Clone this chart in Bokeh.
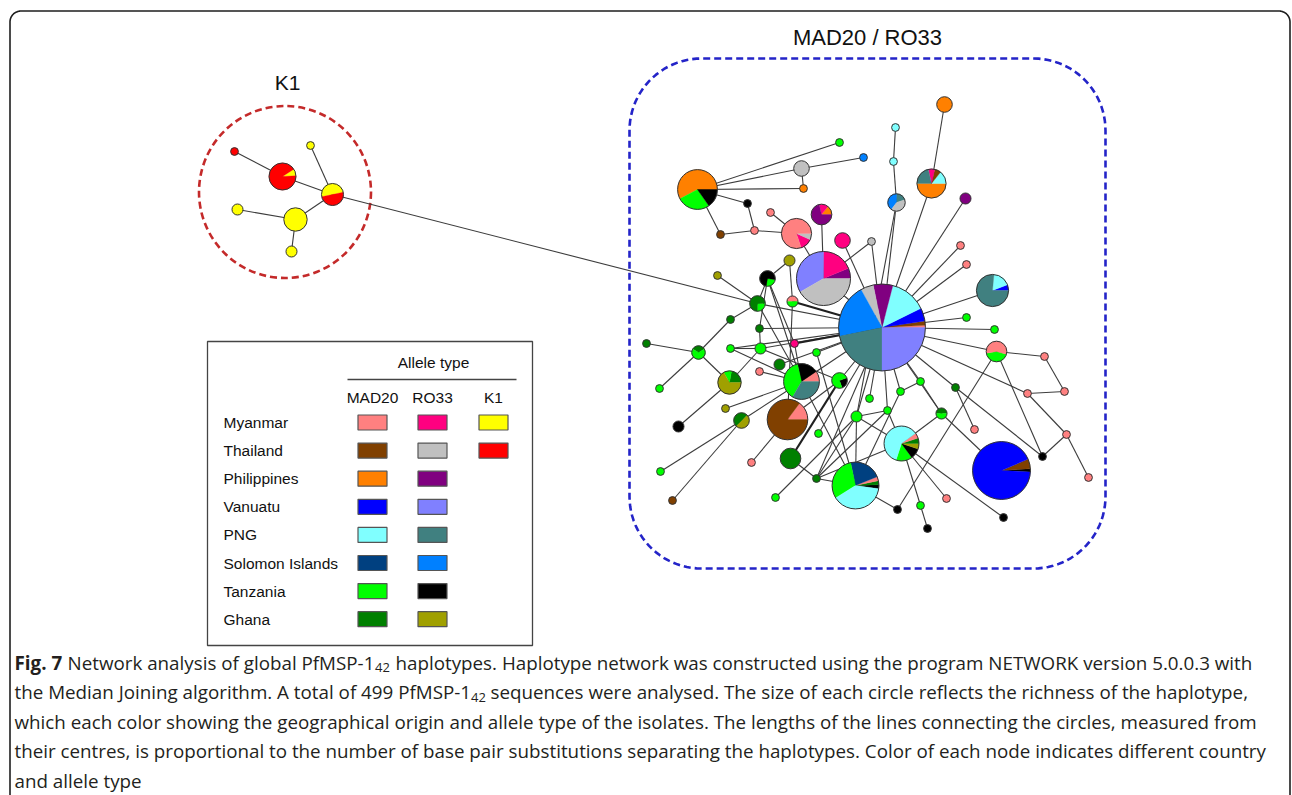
import numpy as np
from bokeh.plotting import figure
from bokeh.models import Range1d
from bokeh.embed import file_html
from bokeh.resources import INLINE
from bokeh.core.properties import value

# ------------------------------------------------------------------ data
countries = ["Myanmar", "Thailand", "Philippines", "Vanuatu", "PNG",
             "Solomon Islands", "Tanzania", "Ghana"]
country_codes = ["My", "Th", "Ph", "Va", "Pn", "So", "Ta", "Gh"]
allele_types = ["MAD20", "RO33", "K1"]
allele_codes = ["M", "R", "K"]
k1_countries = ["Myanmar", "Thailand"]

cluster_names = ["K1", "MAD20 / RO33"]
legend_title = "Allele type"

# haplotype network nodes (layout position in the drawing, haplotype composition)
node_id = ["k1", "k2", "k3", "k4", "k5", "k6", "k7",
           "m1", "m2", "m3", "m4", "m5", "m6", "m7", "m8", "m9", "m10",
           "m11", "m12", "m13", "m14", "m15", "m16", "m17", "m18", "m19", "m20",
           "m21", "hub", "m23", "m24", "m25", "m26", "m27", "m28", "m29", "m30",
           "m31", "m32", "m34", "m35", "m36", "m37", "m38", "m39", "m40", "m41",
           "m42", "m43", "m44", "m45", "m46", "m47", "m48", "m49", "m50", "m51",
           "m52", "m53", "m54", "m55", "m56", "m57", "m60", "m61", "m62", "m63",
           "m64", "m65", "m66", "m67", "m68", "m69", "m70", "m71", "m72", "m73",
           "m74", "m75", "m76", "m78", "m79", "m80", "m81", "m82", "m83"]
node_x = [234, 282, 310, 332, 295, 237, 291,
          697, 839, 801, 863, 803, 747, 770, 720, 754, 796,
          821, 842, 871, 789, 717, 767, 823, 792, 757, 730,
          759, 881.5, 966, 965, 931, 944, 895, 893, 896, 960,
          966, 992, 994, 996, 1044, 1027, 1064, 1066, 1088, 1042,
          974, 955, 920, 900, 869, 887, 941, 856, 901, 1001,
          1003, 946, 920, 927, 897, 855, 646, 698, 730, 760,
          794, 816, 779, 759, 801, 839, 729, 725, 741, 678,
          659, 787, 818, 790, 751, 816, 660, 672, 775]
node_y = [151, 176, 145, 194, 219, 209, 251,
          189, 142, 168, 157, 188, 203, 212, 234, 230, 233,
          214, 240, 241, 260, 275, 278, 278, 301, 303, 319,
          328, 327, 317, 198, 183, 104, 127, 161, 202, 245,
          264, 290, 329, 351, 356, 393, 391, 434, 477, 456,
          429, 387, 381, 391, 398, 410, 413, 416, 443, 470,
          517, 498, 505, 528, 509, 485, 343, 352, 348, 348,
          343, 352, 364, 371, 381, 380, 382, 408, 420, 426,
          388, 419, 433, 458, 462, 478, 471, 500, 497]
node_haplotypes = [
    [("ThK", 1)], [("MyK", 1), ("ThK", 11)], [("MyK", 1)], [("MyK", 4), ("ThK", 4)],
    [("MyK", 9)], [("MyK", 2)], [("MyK", 2)],
    [("PhM", 15), ("TaM", 7), ("TaR", 4)], [("TaM", 1)], [("ThR", 4)], [("SoR", 1)],
    [("PhM", 1)], [("TaR", 1)], [("MyM", 1)], [("ThM", 1)], [("MyM", 1)],
    [("MyR", 2), ("ThR", 1), ("MyM", 12)],
    [("PhM", 1), ("MyR", 1), ("PhR", 5)], [("MyR", 4)], [("ThR", 1)], [("GhR", 2)],
    [("GhR", 1)], [("TaM", 1), ("TaR", 3)],
    [("PhR", 3), ("MyR", 9), ("VaR", 16), ("ThR", 20)],
    [("MyM", 1), ("TaM", 1)], [("TaM", 1), ("GhM", 3)], [("GhM", 1)],
    [("GhM", 1)],
    [("MyM", 1), ("ThM", 2), ("VaM", 6), ("PnM", 17), ("PhR", 9), ("ThR", 6),
     ("SoR", 25), ("PnR", 27), ("VaR", 31)],
    [("TaM", 1)], [("PhR", 2)],
    [("PhM", 7), ("PnM", 2), ("ThM", 1), ("MyR", 1), ("PnR", 3)],
    [("PhM", 4)], [("PnM", 1)], [("PnM", 1)], [("PnR", 1), ("SoR", 2), ("ThR", 2)],
    [("MyM", 1)],
    [("MyM", 1)], [("VaM", 1), ("PnM", 3), ("PnR", 13)], [("TaM", 1)],
    [("TaM", 3), ("MyM", 4)], [("MyM", 1)], [("MyM", 1)], [("MyM", 1)], [("MyM", 1)],
    [("MyM", 1)], [("TaR", 1)],
    [("MyM", 1)], [("GhM", 1)], [("TaM", 1)], [("TaM", 1)], [("TaM", 1)], [("TaM", 1)],
    [("GhM", 1), ("TaM", 1)], [("TaM", 2)],
    [("TaM", 3), ("TaR", 2), ("GhR", 1), ("GhM", 1), ("MyM", 1), ("PnM", 12)],
    [("TaR", 1), ("ThM", 3), ("VaM", 51)],
    [("TaR", 1)], [("MyM", 1)], [("TaM", 1)], [("TaR", 1)], [("TaR", 1)],
    [("TaR", 1), ("GhM", 1), ("MyM", 1), ("SoM", 8), ("TaM", 11), ("PnM", 14)],
    [("GhM", 1)], [("GhM", 1), ("TaM", 2)], [("TaM", 1)], [("TaM", 2)],
    [("MyR", 1)], [("TaM", 1)], [("GhM", 2)], [("MyM", 1)],
    [("MyM", 2), ("TaR", 4), ("TaM", 8), ("PnR", 7)], [("TaR", 1), ("TaM", 3)],
    [("GhM", 2), ("TaM", 1), ("GhR", 6)], [("GhR", 1)], [("GhR", 2), ("GhM", 2)],
    [("TaR", 2)],
    [("TaM", 1)], [("MyM", 4), ("ThM", 23)], [("TaM", 1)], [("GhM", 7)], [("MyM", 1)],
    [("GhM", 1)], [("TaM", 1)], [("ThM", 1)], [("TaM", 1)]]
node_first_angle = [0, 3, 0, 12, 0, 0, 0,
                    0, 0, 0, 0, 0, 0, 0, 0, 0, -72,
                    0, 0, 0, 0, 0, -100, 0, 0, -90, 0,
                    0, 0, 0, 0, 180, 0, 0, 0, 18, 0,
                    0, 0, 0, 190, 0, 0, 0, 0, 0, 0,
                    0, 0, 0, 0, 0, 0, 0, 0, -108, -3,
                    0, 0, 0, 0, 0, -8, 0, 30, 0, 0,
                    0, 0, 0, 0, 0, -70, 0, 0, -135, 0,
                    0, 0, 0, 0, 0, 0, 0, 0, 0]

edge_from = ["k1", "k2", "k3", "k4", "k6", "k5", "k4",
             "m1", "m1", "m1", "m3", "m3", "m1", "m1", "m6", "m8", "m9", "m7", "m10",
             "m11", "m12", "m13", "m13", "m27", "m28", "m29", "m29", "m26", "m25",
             "m24", "m30", "m31", "m32", "m23", "m34", "m35", "m35", "m36", "m38",
             "m37", "m37", "m39", "m39", "m35", "m35", "m43", "m43", "m43", "m44",
             "m44", "m44", "m45", "m46", "m47", "m47", "m47", "m48", "m48", "m48",
             "m50", "m50", "m50", "m54", "m57", "m49", "m49", "m57", "m57",
             "m19", "m16", "m15", "m14", "m14", "m18", "m16", "m16", "m19", "m20",
             "m60", "m61", "m61", "m62", "m63", "m63", "m63", "m21", "m64", "m64",
             "m65", "m66", "m67", "m68", "m68", "m69", "m69", "m70", "m72", "m72",
             "m72", "m75", "m75", "m76", "m78", "m80", "m80", "m83", "m17", "m62",
             "m19", "m16", "m65", "m80", "m80", "m50", "m63", "m62", "m57", "m18"]
edge_to = ["k2", "k4", "k4", "k5", "k5", "k7", "m19",
           "m2", "m3", "m5", "m4", "m5", "m6", "m8", "m9", "m9", "m10", "m10", "m17",
           "m17", "hub", "m17", "hub", "m28", "m29", "hub", "m49", "m25", "hub",
           "hub", "hub", "hub", "hub", "hub", "hub", "hub", "m36", "m38", "m37",
           "hub", "m39", "m40", "m41", "m41", "m56", "hub", "m42", "m41", "hub",
           "m45", "m48", "hub", "hub", "hub", "m49", "m50", "m50", "m51", "hub",
           "m53", "m52", "m54", "m55", "m56", "hub", "m57", "m68", "m80",
           "hub", "m19", "m19", "m16", "m18", "hub", "m21", "m64", "m20", "m61",
           "m61", "m70", "m74", "m63", "m21", "hub", "m70", "hub", "hub", "m68",
           "hub", "hub", "m68", "hub", "m71", "hub", "m78", "m73", "m81", "m82",
           "m68", "m79", "m69", "hub", "m80", "hub", "m50", "m49", "hub", "hub",
           "m68", "m68", "m57", "m47", "m49", "m49", "m69", "m68", "m45", "m75"]
heavy_edges = [("m64", "hub"), ("m18", "hub"), ("m69", "m78")]

caption_bold = "Fig. 7"
caption_line1 = ["Network analysis of global PfMSP-1", "42",
                 "haplotypes. Haplotype network was constructed using the program NETWORK version 5.0.0.3 with"]
caption_line2 = ["the Median Joining algorithm. A total of 499 PfMSP-1", "42",
                 "sequences were analysed. The size of each circle reflects the richness of the haplotype,"]
caption_rest = ["which each color showing the geographical origin and allele type of the isolates. The lengths of the lines connecting the circles, measured from",
                "their centres, is proportional to the number of base pair substitutions separating the haplotypes. Color of each node indicates different country",
                "and allele type"]

# ------------------------------------------------------------------ styles
colors = {"MyM": "#FF8080", "MyR": "#FF0080", "MyK": "#FFFF00",
          "ThM": "#804000", "ThR": "#C0C0C0", "ThK": "#FF0000",
          "PhM": "#FF8000", "PhR": "#800080",
          "VaM": "#0000FF", "VaR": "#8080FF",
          "PnM": "#80FFFF", "PnR": "#408080",
          "SoM": "#004080", "SoR": "#0080FF",
          "TaM": "#00FF00", "TaR": "#000000",
          "GhM": "#008000", "GhR": "#A0A000"}

ARIAL = value("Liberation Sans")
CAPF = value("Open Sans")
W, H = 1292, 795


def node_radius(n):
    return 3.9 * np.sqrt(n)


def rounded_rect(x0, y0, x1, y1, r, n=24):
    xs, ys = [], []
    corners = [((x1 - r, y0 + r), 90, 0), ((x1 - r, y1 - r), 0, -90),
               ((x0 + r, y1 - r), -90, -180), ((x0 + r, y0 + r), 180, 90)]
    for (cx, cy), a0, a1 in corners:
        t = np.deg2rad(np.linspace(a0, a1, n))
        xs.extend(cx + r * np.cos(t))
        ys.extend(cy - r * np.sin(t))
    xs.append(xs[0]); ys.append(ys[0])
    return xs, ys


p = figure(width=W, height=H, x_range=Range1d(0, W), y_range=Range1d(H, 0),
           output_backend="svg", toolbar_location=None, min_border=0,
           x_axis_location=None, y_axis_location=None)
p.grid.visible = False
p.outline_line_color = None
p.background_fill_color = "white"
p.border_fill_color = "white"

# outer panel frame
fx, fy = rounded_rect(9.5, 10.5, 1289.5, 812, 11)
p.line(fx, fy, line_color="#1e1e1e", line_width=1.6)

# cluster boundaries
p.circle([284.5], [191.5], radius=86, fill_color=None, line_color="#C42A2A",
         line_width=2.6, line_dash="7 4")
bx, by = rounded_rect(629, 58, 1105, 568, 72)
p.line(bx, by, line_color="#2424C8", line_width=2.6, line_dash="7 4")
p.text([287], [82], text=[cluster_names[0]], text_font=ARIAL, text_font_size="21px",
       text_align="center", text_baseline="middle", text_color="#111111")
p.text([867], [37], text=[cluster_names[1]], text_font=ARIAL, text_font_size="22px",
       text_align="center", text_baseline="middle", text_color="#111111")

# edges
pos = {nid: (x, y) for nid, x, y in zip(node_id, node_x, node_y)}
ex, ey, hx, hy = [], [], [], []
for a, b in zip(edge_from, edge_to):
    xa, ya = pos[a]
    xb, yb = pos[b]
    if (a, b) in heavy_edges:
        hx.append([xa, xb]); hy.append([ya, yb])
    else:
        ex.append([xa, xb]); ey.append([ya, yb])
p.multi_line(ex, ey, line_color="#3c3c3c", line_width=1.1)
p.multi_line(hx, hy, line_color="#202020", line_width=2.2)

# nodes
sx, sy, sr, sc = [], [], [], []
wx, wy, wr, wa0, wa1, wc = [], [], [], [], [], []
ox, oy, orr = [], [], []
for x, y, comp, a0 in zip(node_x, node_y, node_haplotypes, node_first_angle):
    total = sum(c for _, c in comp)
    r = node_radius(total)
    if len(comp) == 1:
        sx.append(x); sy.append(y); sr.append(r); sc.append(colors[comp[0][0]])
    else:
        a = np.deg2rad(a0)
        for code, c in comp:
            da = 2 * np.pi * c / total
            wx.append(x); wy.append(y); wr.append(r)
            wa0.append(a); wa1.append(a + da); wc.append(colors[code])
            a += da
        ox.append(x); oy.append(y); orr.append(r)
p.circle(sx, sy, radius=sr, fill_color=sc, line_color="#333333", line_width=1)
p.wedge(wx, wy, radius=wr, start_angle=wa0, end_angle=wa1, fill_color=wc,
        line_color=wc, line_width=0.3)
p.circle(ox, oy, radius=orr, fill_color=None, line_color="#333333", line_width=1)

# legend
p.quad(left=[207], right=[532], top=[341], bottom=[645], fill_color="white",
       line_color="#444444", line_width=1.3)
p.text([433], [362], text=[legend_title], text_font=ARIAL, text_font_size="15.5px",
       text_align="center", text_baseline="middle", text_color="#111111")
p.line([347, 516], [379, 379], line_color="#444444", line_width=1.3)
col_x = [372, 432, 493]
p.text(col_x, [397] * 3, text=allele_types, text_font=ARIAL, text_font_size="15.5px",
       text_align="center", text_baseline="middle", text_color="#111111")
row_y = [422 + 28.1 * i for i in range(len(countries))]
p.text([223] * len(countries), row_y, text=countries, text_font=ARIAL,
       text_font_size="15.5px", text_align="left", text_baseline="middle",
       text_color="#111111")
ql, qr, qt, qb, qc = [], [], [], [], []
for i, (cname, cc) in enumerate(zip(countries, country_codes)):
    for j, ac in enumerate(allele_codes):
        if ac == "K" and cname not in k1_countries:
            continue
        ql.append(col_x[j] - 14.5); qr.append(col_x[j] + 14.5)
        qt.append(row_y[i] - 7.5); qb.append(row_y[i] + 7.5)
        qc.append(colors[cc + ac])
p.quad(left=ql, right=qr, top=qt, bottom=qb, fill_color=qc, line_color="#555555",
       line_width=1.2)

# caption
CS = "18.8px"
SS = "13px"
cy = [662 + 29.5 * i for i in range(5)]
tc = "#231F20"
p.text([14], [cy[0]], text=[caption_bold], text_font=CAPF, text_font_size=CS,
       text_font_style="bold", text_baseline="middle", text_color=tc)
p.text([67, 395], [cy[0]] * 2, text=[caption_line1[0], caption_line1[2]], text_font=CAPF,
       text_font_size=CS, text_baseline="middle", text_color=tc)
p.text([374.5], [cy[0] + 5], text=[caption_line1[1]], text_font=CAPF, text_font_size=SS,
       text_baseline="middle", text_color=tc)
p.text([14, 490], [cy[1]] * 2, text=[caption_line2[0], caption_line2[2]], text_font=CAPF,
       text_font_size=CS, text_baseline="middle", text_color=tc)
p.text([470.5], [cy[1] + 5], text=[caption_line2[1]], text_font=CAPF, text_font_size=SS,
       text_baseline="middle", text_color=tc)
p.text([14] * 3, cy[2:], text=caption_rest, text_font=CAPF, text_font_size=CS,
       text_baseline="middle", text_color=tc)

open("out.html", "w").write(file_html(p, INLINE))
